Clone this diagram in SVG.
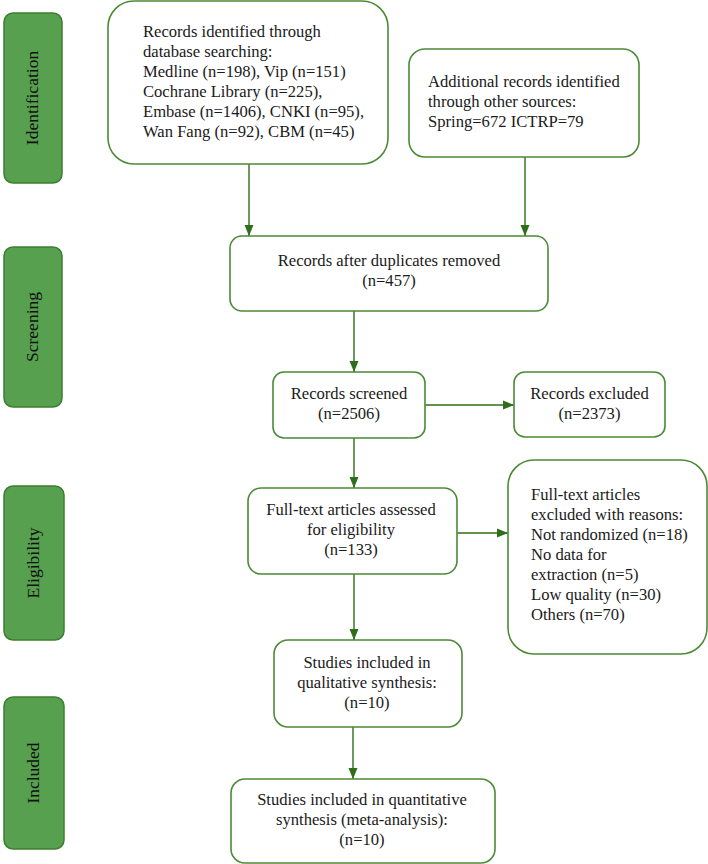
<svg xmlns="http://www.w3.org/2000/svg" width="708" height="864" viewBox="0 0 708 864">
<style>
.side{fill:#56a04f;stroke:#3f7d2f;stroke-width:1.5}
.box{fill:#fff;stroke:#4b8a36;stroke-width:1.6}
.t{font-family:"Liberation Serif","DejaVu Serif",serif;font-size:16.6px;fill:#1a1a1a}
.c{text-anchor:middle}
.lbl{font-family:"Liberation Serif","DejaVu Serif",serif;font-size:17.5px;fill:#111;text-anchor:middle}
.con{stroke:#2f6e1a;stroke-width:1.4;fill:none;marker-end:url(#ah)}
</style>
<defs>
<marker id="ah" markerUnits="userSpaceOnUse" markerWidth="12" markerHeight="12" viewBox="0 0 12 12" refX="11" refY="6" orient="auto">
<path d="M0,1.5 L11,6 L0,10.5 Z" fill="#2f6e1a"/>
</marker>
</defs>
<g id="stage-identification"><rect class="side" x="4" y="13" width="58" height="170" rx="9"/><text class="lbl" transform="translate(38,98) rotate(-90)">Identification</text></g>
<g id="stage-screening"><rect class="side" x="4" y="247" width="58" height="160" rx="9"/><text class="lbl" transform="translate(38,327) rotate(-90)">Screening</text></g>
<g id="stage-eligibility"><rect class="side" x="4" y="486" width="60" height="154" rx="9"/><text class="lbl" transform="translate(39,563) rotate(-90)">Eligibility</text></g>
<g id="stage-included"><rect class="side" x="4" y="697" width="60" height="152" rx="9"/><text class="lbl" transform="translate(39,773) rotate(-90)">Included</text></g>
<g id="connectors">
<line class="con" x1="249" y1="164" x2="249" y2="236"/>
<line class="con" x1="525" y1="157" x2="525" y2="236"/>
<line class="con" x1="354" y1="311" x2="354" y2="372"/>
<line class="con" x1="425" y1="405" x2="514" y2="405"/>
<line class="con" x1="354" y1="438" x2="354" y2="488"/>
<line class="con" x1="457" y1="533" x2="508" y2="533"/>
<line class="con" x1="354" y1="574" x2="354" y2="640"/>
<line class="con" x1="353" y1="727" x2="353" y2="779"/>
</g>
<g id="n-database"><rect class="box" x="108" y="1" width="280" height="163" rx="26"/>
<text class="t" x="143" y="37">Records identified through</text>
<text class="t" x="143" y="57">database searching:</text>
<text class="t" x="143" y="77">Medline (n=198), Vip (n=151)</text>
<text class="t" x="143" y="97">Cochrane Library (n=225),</text>
<text class="t" x="143" y="117">Embase (n=1406), CNKI (n=95),</text>
<text class="t" x="143" y="137">Wan Fang (n=92), CBM (n=45)</text></g>
<g id="n-additional"><rect class="box" x="409" y="49" width="230" height="108" rx="16"/>
<text class="t" x="428" y="87">Additional records identified</text>
<text class="t" x="428" y="107">through other sources:</text>
<text class="t" x="428" y="127">Spring=672 ICTRP=79</text></g>
<g id="n-duplicates"><rect class="box" x="230" y="236" width="318" height="75" rx="12"/>
<text class="t c" x="389" y="266">Records after duplicates removed</text>
<text class="t c" x="389" y="286">(n=457)</text></g>
<g id="n-screened"><rect class="box" x="273" y="372" width="152" height="66" rx="11"/>
<text class="t c" x="349" y="399">Records screened</text>
<text class="t c" x="349" y="419">(n=2506)</text></g>
<g id="n-excluded"><rect class="box" x="514" y="372" width="151" height="65" rx="11"/>
<text class="t c" x="589.5" y="399">Records excluded</text>
<text class="t c" x="589.5" y="419">(n=2373)</text></g>
<g id="n-fulltext"><rect class="box" x="248" y="488" width="209" height="86" rx="13"/>
<text class="t c" x="351" y="515">Full-text articles assessed</text>
<text class="t c" x="351" y="535">for eligibility</text>
<text class="t c" x="351" y="555">(n=133)</text></g>
<g id="n-reasons"><rect class="box" x="508" y="460" width="199" height="194" rx="26"/>
<text class="t" x="531" y="500">Full-text articles</text>
<text class="t" x="531" y="520">excluded with reasons:</text>
<text class="t" x="531" y="540">Not randomized (n=18)</text>
<text class="t" x="531" y="560">No data for</text>
<text class="t" x="531" y="580">extraction (n=5)</text>
<text class="t" x="531" y="600">Low quality (n=30)</text>
<text class="t" x="531" y="620">Others (n=70)</text></g>
<g id="n-qualitative"><rect class="box" x="274" y="640" width="188" height="87" rx="14"/>
<text class="t c" x="367" y="668">Studies included in</text>
<text class="t c" x="367" y="688">qualitative synthesis:</text>
<text class="t c" x="367" y="708">(n=10)</text></g>
<g id="n-quantitative"><rect class="box" x="231" y="779" width="264" height="84" rx="14"/>
<text class="t c" x="362" y="805">Studies included in quantitative</text>
<text class="t c" x="362" y="825">synthesis (meta-analysis):</text>
<text class="t c" x="362" y="845">(n=10)</text></g>
</svg>
